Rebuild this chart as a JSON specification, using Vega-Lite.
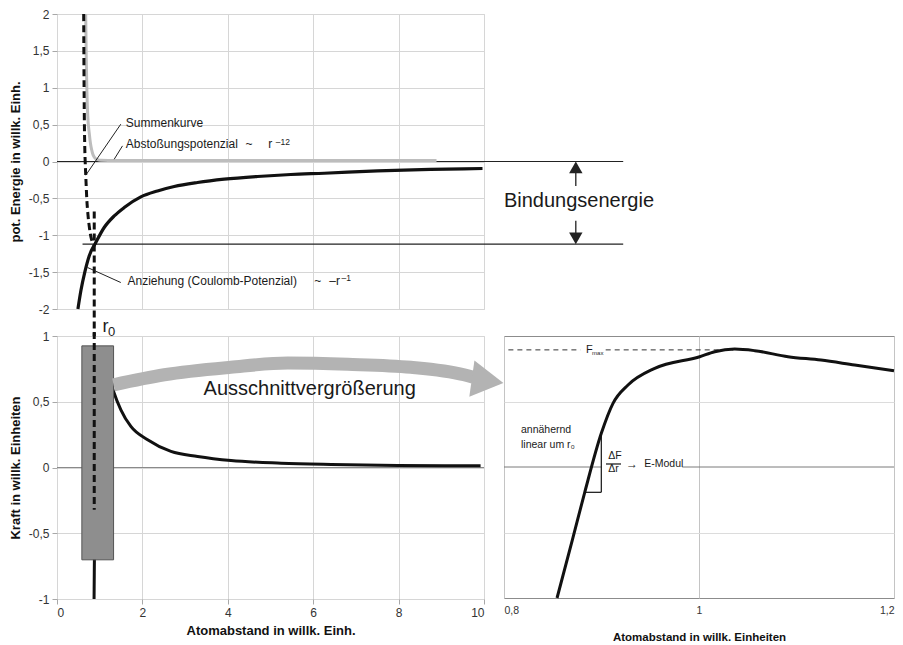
{
  "$schema": "https://vega.github.io/schema/vega-lite/v6.json",
  "background": "white",
  "padding": {"left": 8, "top": 7, "right": 2, "bottom": 2},
  "bounds": "flush",
  "spacing": 27,
  "vconcat": [
    {
      "width": 427,
      "height": 295,
      "encoding": {
        "x": {"field": "x", "type": "quantitative", "scale": {"domain": [0, 10], "nice": false, "zero": false},
              "axis": {"values": [0, 2, 4, 6, 8, 10], "labels": false, "ticks": false, "title": null, "grid": true}},
        "y": {"field": "y", "type": "quantitative", "scale": {"domain": [-2, 2], "nice": false, "zero": false},
              "axis": {"values": [-2, -1.5, -1, -0.5, 0, 0.5, 1, 1.5, 2], "title": "pot. Energie in willk. Einh.", "titlePadding": 6,
                       "labelExpr": "(datum.value < 0 ? '-' : '') + replace(format(abs(datum.value), ''), '.', ',')"}}
      },
      "layer": [
        {
          "data": {"values": [{"x": 0, "x2": 13.26, "y": 0}, {"x": 0.598, "x2": 13.26, "y": -1.121}]},
          "mark": {"type": "rule", "color": "#222", "strokeWidth": 1.2, "clip": false},
          "encoding": {"x2": {"field": "x2"}}
        },
        {
          "data": {"values": [
            {"x": 0.672, "y": 2.0}, {"x": 0.685, "y": 1.4}, {"x": 0.7, "y": 0.95}, {"x": 0.72, "y": 0.62},
            {"x": 0.754, "y": 0.39}, {"x": 0.785, "y": 0.24}, {"x": 0.808, "y": 0.167}, {"x": 0.845, "y": 0.09},
            {"x": 0.885, "y": 0.05}, {"x": 0.95, "y": 0.025}, {"x": 1.026, "y": 0.016}, {"x": 1.2, "y": 0.015},
            {"x": 8.888, "y": 0.015}
          ]},
          "mark": {"type": "line", "color": "#bdbdbd", "strokeWidth": 3, "interpolate": "monotone"}
        },
        {
          "data": {"values": [
            {"x": 0.49, "y": -2.0}, {"x": 0.56, "y": -1.75}, {"x": 0.651, "y": -1.5}, {"x": 0.754, "y": -1.28},
            {"x": 0.909, "y": -1.098}, {"x": 1.105, "y": -0.895}, {"x": 1.34, "y": -0.738}, {"x": 1.574, "y": -0.624},
            {"x": 1.963, "y": -0.48}, {"x": 2.354, "y": -0.399}, {"x": 2.745, "y": -0.339}, {"x": 3.29, "y": -0.285},
            {"x": 3.916, "y": -0.24}, {"x": 4.696, "y": -0.203}, {"x": 5.475, "y": -0.176}, {"x": 6.258, "y": -0.159},
            {"x": 7.506, "y": -0.127}, {"x": 8.747, "y": -0.108}, {"x": 9.965, "y": -0.095}
          ]},
          "mark": {"type": "line", "color": "#111", "strokeWidth": 3.2, "interpolate": "monotone"}
        },
        {
          "data": {"values": [
            {"x": 0.625, "y": 2.0}, {"x": 0.632, "y": 1.2}, {"x": 0.64, "y": 0.6}, {"x": 0.65, "y": 0.2},
            {"x": 0.66, "y": 0.0}, {"x": 0.674, "y": -0.195}, {"x": 0.698, "y": -0.511}, {"x": 0.725, "y": -0.72},
            {"x": 0.754, "y": -0.873}, {"x": 0.78, "y": -0.98}, {"x": 0.808, "y": -1.054}, {"x": 0.84, "y": -1.1},
            {"x": 0.871, "y": -1.121}, {"x": 0.909, "y": -1.1}
          ]},
          "mark": {"type": "line", "color": "#111", "strokeWidth": 3, "strokeDash": [7, 4], "interpolate": "monotone"}
        },
        {
          "data": {"values": [{"x": 0.872, "y": -0.678, "y2": -2.37}]},
          "mark": {"type": "rule", "color": "#111", "strokeWidth": 3, "strokeDash": [7, 4], "clip": false},
          "encoding": {"y2": {"field": "y2"}}
        },
        {
          "data": {"values": [
            {"x": 1.494, "y": 0.506, "x2": 0.674, "y2": -0.186},
            {"x": 1.534, "y": 0.212, "x2": 1.34, "y2": 0.031},
            {"x": 1.494, "y": -1.641, "x2": 0.714, "y2": -1.437}
          ]},
          "mark": {"type": "rule", "color": "#222", "strokeWidth": 1},
          "encoding": {"x2": {"field": "x2"}, "y2": {"field": "y2"}}
        },
        {
          "data": {"values": [
            {"x": 1.611, "y": 0.519, "t": "Summenkurve"},
            {"x": 1.611, "y": 0.235, "t": "Abstoßungspotenzial"},
            {"x": 4.415, "y": 0.235, "t": "~"},
            {"x": 4.946, "y": 0.235, "t": "r"},
            {"x": 1.651, "y": -1.619, "t": "Anziehung (Coulomb-Potenzial)"},
            {"x": 6.023, "y": -1.619, "t": "~"},
            {"x": 6.375, "y": -1.619, "t": "–r"}
          ]},
          "mark": {"type": "text", "align": "left", "baseline": "middle", "fontSize": 12, "fill": "#1a1a1a", "font": "Liberation Sans"},
          "encoding": {"text": {"field": "t"}}
        },
        {
          "data": {"values": [{"x": 5.124, "y": 0.271, "t": "–12"}, {"x": 6.663, "y": -1.582, "t": "–1"}]},
          "mark": {"type": "text", "align": "left", "baseline": "middle", "fontSize": 8.5, "fill": "#1a1a1a", "font": "Liberation Sans"},
          "encoding": {"text": {"field": "t"}}
        },
        {
          "data": {"values": [{"x": 12.225, "y": -0.534, "t": "Bindungsenergie"}]},
          "mark": {"type": "text", "align": "center", "baseline": "middle", "fontSize": 20, "fill": "#1a1a1a", "font": "Liberation Sans", "clip": false},
          "encoding": {"text": {"field": "t"}}
        },
        {
          "data": {"values": [{"x": 12.15, "y": -0.079, "y2": -0.331}, {"x": 12.15, "y": -0.805, "y2": -1.04}]},
          "mark": {"type": "rule", "color": "#222", "strokeWidth": 1.3, "clip": false},
          "encoding": {"y2": {"field": "y2"}}
        },
        {
          "data": {"values": [{"x": 12.15, "y": -0.079}]},
          "mark": {"type": "point", "shape": "triangle-up", "size": 180, "filled": true, "color": "#222", "opacity": 1, "clip": false}
        },
        {
          "data": {"values": [{"x": 12.15, "y": -1.042}]},
          "mark": {"type": "point", "shape": "triangle-down", "size": 180, "filled": true, "color": "#222", "opacity": 1, "clip": false}
        },
        {
          "data": {"values": [{"x": 1.066, "y": -2.312, "t": "r"}]},
          "mark": {"type": "text", "align": "left", "baseline": "alphabetic", "fontSize": 18, "fill": "#1a1a1a", "font": "Liberation Sans", "clip": false},
          "encoding": {"text": {"field": "t"}}
        },
        {
          "data": {"values": [{"x": 1.196, "y": -2.366, "t": "0"}]},
          "mark": {"type": "text", "align": "left", "baseline": "alphabetic", "fontSize": 13, "fill": "#1a1a1a", "font": "Liberation Sans", "clip": false},
          "encoding": {"text": {"field": "t"}}
        }
      ]
    },
    {
      "bounds": "flush",
      "spacing": 20,
      "hconcat": [
        {
          "width": 427,
          "height": 263,
          "encoding": {
            "x": {"field": "x", "type": "quantitative", "scale": {"domain": [0, 10], "nice": false, "zero": false},
                  "axis": {"values": [0, 2, 4, 6, 8, 10], "title": "Atomabstand in willk. Einh.", "titlePadding": 6, "grid": true,
                           "labelExpr": "(datum.value < 0 ? '-' : '') + replace(format(abs(datum.value), ''), '.', ',')"}},
            "y": {"field": "y", "type": "quantitative", "scale": {"domain": [-1, 1], "nice": false, "zero": false},
                  "axis": {"values": [-1, -0.5, 0, 0.5, 1], "title": "Kraft in willk. Einheiten", "titlePadding": 6, "grid": true,
                           "labelExpr": "(datum.value < 0 ? '-' : '') + replace(format(abs(datum.value), ''), '.', ',')"}}
          },
          "layer": [
            {
              "data": {"values": [{"x": 0, "x2": 10, "y": 0}]},
              "mark": {"type": "rule", "color": "#8a8a8a", "strokeWidth": 1},
              "encoding": {"x2": {"field": "x2"}}
            },
            {
              "data": {"values": [
                {"x": 0.868, "y": -1.0}, {"x": 0.872, "y": -0.85}, {"x": 0.876, "y": -0.7}, {"x": 0.9, "y": -0.2},
                {"x": 0.95, "y": 0.5}, {"x": 1.0, "y": 0.8}, {"x": 1.04, "y": 0.9}, {"x": 1.1, "y": 0.85},
                {"x": 1.2, "y": 0.72}, {"x": 1.325, "y": 0.578}, {"x": 1.496, "y": 0.439}, {"x": 1.73, "y": 0.312},
                {"x": 2.122, "y": 0.211}, {"x": 2.668, "y": 0.122}, {"x": 3.294, "y": 0.084}, {"x": 4.075, "y": 0.053},
                {"x": 5.247, "y": 0.033}, {"x": 6.42, "y": 0.023}, {"x": 7.98, "y": 0.015}, {"x": 9.92, "y": 0.013}
              ]},
              "mark": {"type": "line", "color": "#111", "strokeWidth": 3, "interpolate": "monotone"}
            },
            {
              "data": {"values": [{"x": 0.582, "x2": 1.325, "y": -0.702, "y2": 0.925}]},
              "mark": {"type": "rect", "fill": "#8e8e8e", "stroke": "#555", "strokeWidth": 1},
              "encoding": {"x2": {"field": "x2"}, "y2": {"field": "y2"}}
            },
            {
              "data": {"values": [{"x": 0.872, "y": 1.03, "y2": -0.322}]},
              "mark": {"type": "rule", "color": "#111", "strokeWidth": 3, "strokeDash": [7, 4], "clip": false},
              "encoding": {"y2": {"field": "y2"}}
            },
            {
              "data": {"values": [
                {"x": 1.325, "y": 0.629}, {"x": 2.513, "y": 0.705}, {"x": 4.068, "y": 0.762}, {"x": 5.404, "y": 0.794},
                {"x": 6.811, "y": 0.785}, {"x": 8.288, "y": 0.762}, {"x": 9.531, "y": 0.705}, {"x": 9.75, "y": 0.686}
              ]},
              "mark": {"type": "line", "color": "#b3b3b3", "strokeWidth": 13, "interpolate": "monotone", "strokeCap": "butt", "clip": false}
            },
            {
              "data": {"values": [{"x": 10.085, "y": 0.659}]},
              "mark": {"type": "point", "shape": "triangle-right", "size": 1350, "angle": 8, "filled": true, "color": "#b3b3b3", "opacity": 1, "clip": false}
            },
            {
              "data": {"values": [{"x": 5.918, "y": 0.596, "t": "Ausschnittvergrößerung"}]},
              "mark": {"type": "text", "align": "center", "baseline": "middle", "fontSize": 20, "fill": "#1a1a1a", "font": "Liberation Sans"},
              "encoding": {"text": {"field": "t"}}
            }
          ]
        },
        {
          "width": 390,
          "height": 262,
          "view": {"stroke": "#8c8c8c"},
          "encoding": {
            "x": {"field": "x", "type": "quantitative", "scale": {"domain": [0.8, 1.2], "nice": false, "zero": false},
                  "axis": {"values": [0.8, 1, 1.2], "title": "Atomabstand in willk. Einheiten", "titleFontSize": 11.5, "titlePadding": 16,
                           "labelFontSize": 10.5, "ticks": false, "labelPadding": 7, "grid": true, "gridColor": "#c4c4c4",
                           "labelExpr": "(datum.value < 0 ? '-' : '') + replace(format(abs(datum.value), ''), '.', ',')"}},
            "y": {"field": "y", "type": "quantitative", "scale": {"domain": [0, 1], "nice": false, "zero": false},
                  "axis": {"values": [0.25, 0.75], "labels": false, "ticks": false, "title": null, "grid": true, "gridColor": "#dcdcdc"}}
          },
          "layer": [
            {
              "data": {"values": [{"x": 0.8, "x2": 0.8998, "y": 0.5}, {"x": 0.9828, "x2": 1.2, "y": 0.5}]},
              "mark": {"type": "rule", "color": "#7a7a7a", "strokeWidth": 1},
              "encoding": {"x2": {"field": "x2"}}
            },
            {
              "data": {"values": [{"x": 0.8045, "x2": 0.8785, "y": 0.947}, {"x": 0.9043, "x2": 1.035, "y": 0.947}]},
              "mark": {"type": "rule", "color": "#333", "strokeWidth": 1, "strokeDash": [5, 4]},
              "encoding": {"x2": {"field": "x2"}}
            },
            {
              "data": {"values": [
                {"x": 0.8544, "y": 0.0}, {"x": 0.87, "y": 0.22}, {"x": 0.8828, "y": 0.4034}, {"x": 0.8998, "y": 0.6286},
                {"x": 0.9118, "y": 0.743}, {"x": 0.9272, "y": 0.813}, {"x": 0.9546, "y": 0.8767}, {"x": 1.0007, "y": 0.921},
                {"x": 1.0161, "y": 0.94}, {"x": 1.0366, "y": 0.95}, {"x": 1.0571, "y": 0.944}, {"x": 1.0913, "y": 0.921},
                {"x": 1.1251, "y": 0.908}, {"x": 1.1597, "y": 0.889}, {"x": 1.2, "y": 0.8676}
              ]},
              "mark": {"type": "line", "color": "#111", "strokeWidth": 3, "interpolate": "monotone"}
            },
            {
              "data": {"values": [
                {"x": 0.8998, "x2": 0.8998, "y": 0.4034, "y2": 0.6286},
                {"x": 0.8828, "x2": 0.8998, "y": 0.4034, "y2": 0.4034},
                {"x": 0.9046, "x2": 0.92, "y": 0.5115, "y2": 0.5115}
              ]},
              "mark": {"type": "rule", "color": "#111", "strokeWidth": 1.2},
              "encoding": {"x2": {"field": "x2"}, "y2": {"field": "y2"}}
            },
            {
              "data": {"values": [
                {"x": 0.8174, "y": 0.641, "t": "annähernd"},
                {"x": 0.8174, "y": 0.584, "t": "linear um r₀"},
                {"x": 0.9438, "y": 0.513, "t": "E-Modul"}
              ]},
              "mark": {"type": "text", "align": "left", "baseline": "middle", "fontSize": 10.5, "fill": "#1a1a1a", "font": "Liberation Sans"},
              "encoding": {"text": {"field": "t"}}
            },
            {
              "data": {"values": [{"x": 0.9138, "y": 0.542, "t": "ΔF"}, {"x": 0.9123, "y": 0.4905, "t": "Δr"}]},
              "mark": {"type": "text", "align": "center", "baseline": "middle", "fontSize": 10.5, "fill": "#1a1a1a", "font": "Liberation Sans"},
              "encoding": {"text": {"field": "t"}}
            },
            {
              "data": {"values": [{"x": 0.9251, "y": 0.511, "t": "→"}]},
              "mark": {"type": "text", "align": "left", "baseline": "middle", "fontSize": 12, "fill": "#1a1a1a", "font": "Liberation Sans"},
              "encoding": {"text": {"field": "t"}}
            },
            {
              "data": {"values": [{"x": 0.8841, "y": 0.935, "t": "F"}]},
              "mark": {"type": "text", "align": "left", "baseline": "alphabetic", "fontSize": 11, "fill": "#1a1a1a", "font": "Liberation Sans"},
              "encoding": {"text": {"field": "t"}}
            },
            {
              "data": {"values": [{"x": 0.8903, "y": 0.929, "t": "max"}]},
              "mark": {"type": "text", "align": "left", "baseline": "alphabetic", "fontSize": 6, "fill": "#1a1a1a", "font": "Liberation Sans"},
              "encoding": {"text": {"field": "t"}}
            }
          ]
        }
      ]
    }
  ],
  "config": {
    "font": "Liberation Sans",
    "view": {"stroke": "#d4d4d4"},
    "axis": {
      "labelFont": "Liberation Sans", "titleFont": "Liberation Sans", "labelColor": "#333", "titleColor": "#111",
      "labelFontSize": 12, "titleFontSize": 13, "titleFontWeight": "bold", "gridColor": "#d6d6d6", "gridOpacity": 1,
      "tickColor": "#a8a8a8", "tickSize": 5, "labelPadding": 3, "domain": false
    }
  }
}
